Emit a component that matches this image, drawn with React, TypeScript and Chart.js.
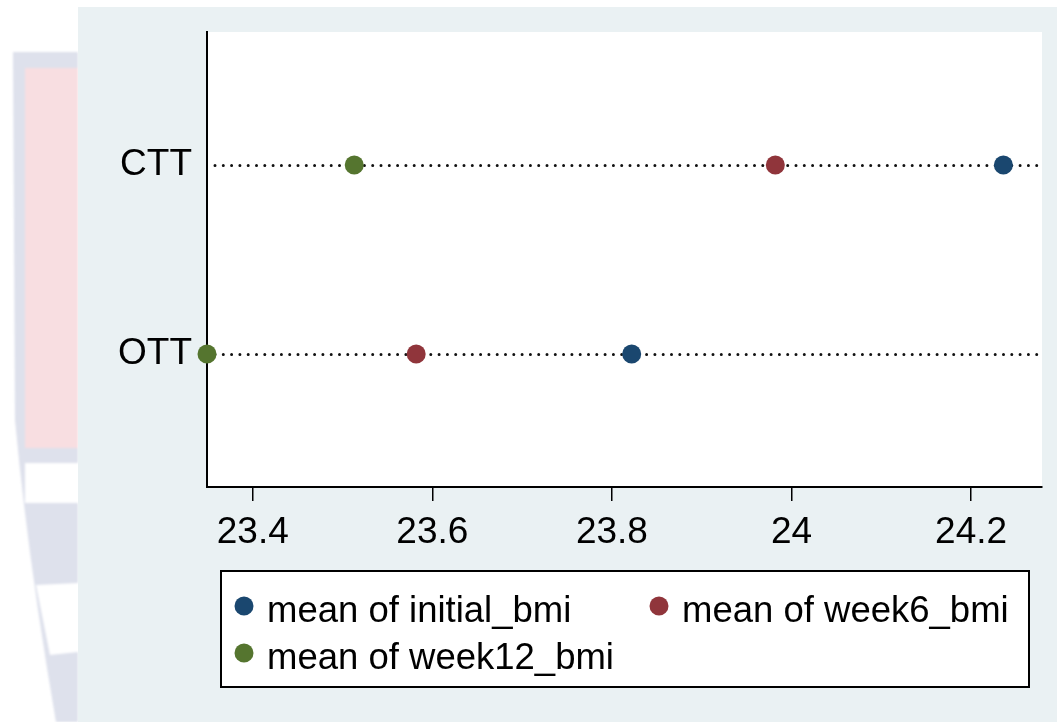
import React, { useEffect, useRef } from "react";
import { Chart, registerables } from "chart.js";

Chart.register(...registerables);

// ---- data ----
const categories = ["OTT", "CTT"];
const categoryPos = [1, 2];
const initialBmi = [23.822, 24.236];
const week6Bmi = [23.582, 23.982];
const week12Bmi = [23.349, 23.513];
const xTicks = [23.4, 23.6, 23.8, 24, 24.2];
const seriesLabels = ["mean of initial_bmi", "mean of week6_bmi", "mean of week12_bmi"];
const seriesColors = ["#1A476F", "#90353B", "#55752F"];

const FONT_FAMILY = '"Liberation Sans", Arial, Helvetica, sans-serif';
const FONT_SIZE = 37;
const LEGEND_FONT_SIZE = 36.5;

const PANEL_W = 979;
const PANEL_H = 715;

const plotBgPlugin = {
  id: "plotBg",
  beforeDraw(chart: any) {
    const { ctx, chartArea: a } = chart;
    ctx.save();
    ctx.fillStyle = "#ffffff";
    ctx.fillRect(a.left, a.top, a.right - a.left, a.bottom - a.top);
    ctx.restore();
  },
};

const dottedLinesPlugin = {
  id: "dottedLines",
  beforeDatasetsDraw(chart: any) {
    const { ctx, chartArea: a, scales } = chart;
    ctx.save();
    ctx.setLineDash([0, 8.3]);
    ctx.lineCap = "round";
    ctx.lineWidth = 3;
    ctx.strokeStyle = "#111111";
    categoryPos.forEach((p) => {
      const y = Math.round(scales.y.getPixelForValue(p)) + 0.5;
      ctx.beginPath();
      ctx.moveTo(a.left + 8, y);
      ctx.lineTo(a.right, y);
      ctx.stroke();
    });
    ctx.restore();
  },
};

const boxLegendPlugin = {
  id: "boxLegend",
  afterDraw(chart: any) {
    const { ctx, chartArea: a } = chart;
    const left = a.left + 14;
    const top = a.bottom + 84;
    const w = 808;
    const h = 116;
    ctx.save();
    ctx.fillStyle = "#ffffff";
    ctx.fillRect(left, top, w, h);
    ctx.lineWidth = 2;
    ctx.strokeStyle = "#000000";
    ctx.strokeRect(left, top, w, h);
    const slots = [
      { dx: 23, dy: 35 },
      { dx: 438, dy: 35 },
      { dx: 23, dy: 82 },
    ];
    ctx.font = `${LEGEND_FONT_SIZE}px ${FONT_FAMILY}`;
    ctx.textBaseline = "alphabetic";
    ctx.textAlign = "left";
    chart.data.datasets.forEach((ds: any, i: number) => {
      const s = slots[i];
      const cx = left + s.dx;
      const cy = top + s.dy;
      ctx.beginPath();
      ctx.fillStyle = ds.backgroundColor;
      ctx.arc(cx, cy, 9.5, 0, Math.PI * 2);
      ctx.fill();
      ctx.fillStyle = "#000000";
      ctx.fillText(ds.label, cx + 23, cy + 16);
    });
    ctx.restore();
  },
};

export default function App() {
  const canvasRef = useRef<HTMLCanvasElement | null>(null);

  useEffect(() => {
    if (!canvasRef.current) return;
    const seriesValues = [initialBmi, week6Bmi, week12Bmi];
    const chart = new Chart(canvasRef.current, {
      type: "scatter",
      data: {
        datasets: seriesValues.map((vals, i) => ({
          label: seriesLabels[i],
          data: vals.map((v, j) => ({ x: v, y: categoryPos[j] })),
          backgroundColor: seriesColors[i],
          borderColor: seriesColors[i],
          borderWidth: 0,
          pointRadius: 9.5,
          pointHoverRadius: 9.5,
          clip: false as any,
        })),
      },
      options: {
        responsive: false,
        animation: false,
        events: [],
        layout: { padding: { top: 25, right: 15, left: 0, bottom: 0 } },
        plugins: {
          legend: { display: false },
          tooltip: { enabled: false },
        },
        scales: {
          x: {
            type: "linear",
            position: "bottom",
            min: 23.349,
            max: 24.279,
            afterBuildTicks: (s: any) => {
              s.ticks = xTicks.map((v) => ({ value: v }));
            },
            afterFit: (s: any) => {
              s.height = 235;
              s.paddingLeft = 0;
              s.paddingRight = 0;
            },
            ticks: {
              color: "#000",
              font: { size: FONT_SIZE, family: FONT_FAMILY },
              padding: 10,
              maxRotation: 0,
              autoSkip: false,
              callback: (v: any) => String(v),
            },
            grid: {
              drawOnChartArea: false,
              drawTicks: true,
              tickLength: 14,
              color: "#000",
              lineWidth: 1.5,
            },
            border: { display: true, color: "#000", width: 2 },
          },
          y: {
            type: "linear",
            position: "left",
            min: 0.296,
            max: 2.704,
            afterBuildTicks: (s: any) => {
              s.ticks = categoryPos.map((v) => ({ value: v }));
            },
            afterFit: (s: any) => {
              s.width = 129;
              s.paddingTop = 0;
              s.paddingBottom = 0;
            },
            ticks: {
              color: "#000",
              font: { size: FONT_SIZE, family: FONT_FAMILY },
              padding: 7,
              autoSkip: false,
              callback: (v: any) => categories[categoryPos.indexOf(v)] ?? "",
            },
            grid: { display: false },
            border: { display: true, color: "#000", width: 2 },
          },
        },
      },
      plugins: [plotBgPlugin, dottedLinesPlugin, boxLegendPlugin],
    });
    return () => chart.destroy();
  }, []);

  return (
    <div style={{ position: "absolute", left: 0, top: 0, width: 1057, height: 722, overflow: "hidden", background: "#ffffff" }}>
      <svg width={1057} height={722} style={{ position: "absolute", left: 0, top: 0, filter: "blur(1px)" }}>
        <path d="M13 52 L78 52 L78 722 L56 722 Q28 560 15 420 Z" fill="#DEE1EC" />
        <rect x={25} y={68} width={53} height={380} fill="#F8DEE1" />
        <rect x={25} y={463} width={53} height={40} fill="#ffffff" />
        <path d="M36 585 L78 583 L78 652 L50 655 Z" fill="#ffffff" />
      </svg>
      <div style={{ position: "absolute", left: 78, top: 7, width: PANEL_W, height: PANEL_H, background: "#EAF1F3" }}>
        <canvas ref={canvasRef} width={PANEL_W} height={PANEL_H} style={{ width: PANEL_W, height: PANEL_H, display: "block" }} />
      </div>
    </div>
  );
}
